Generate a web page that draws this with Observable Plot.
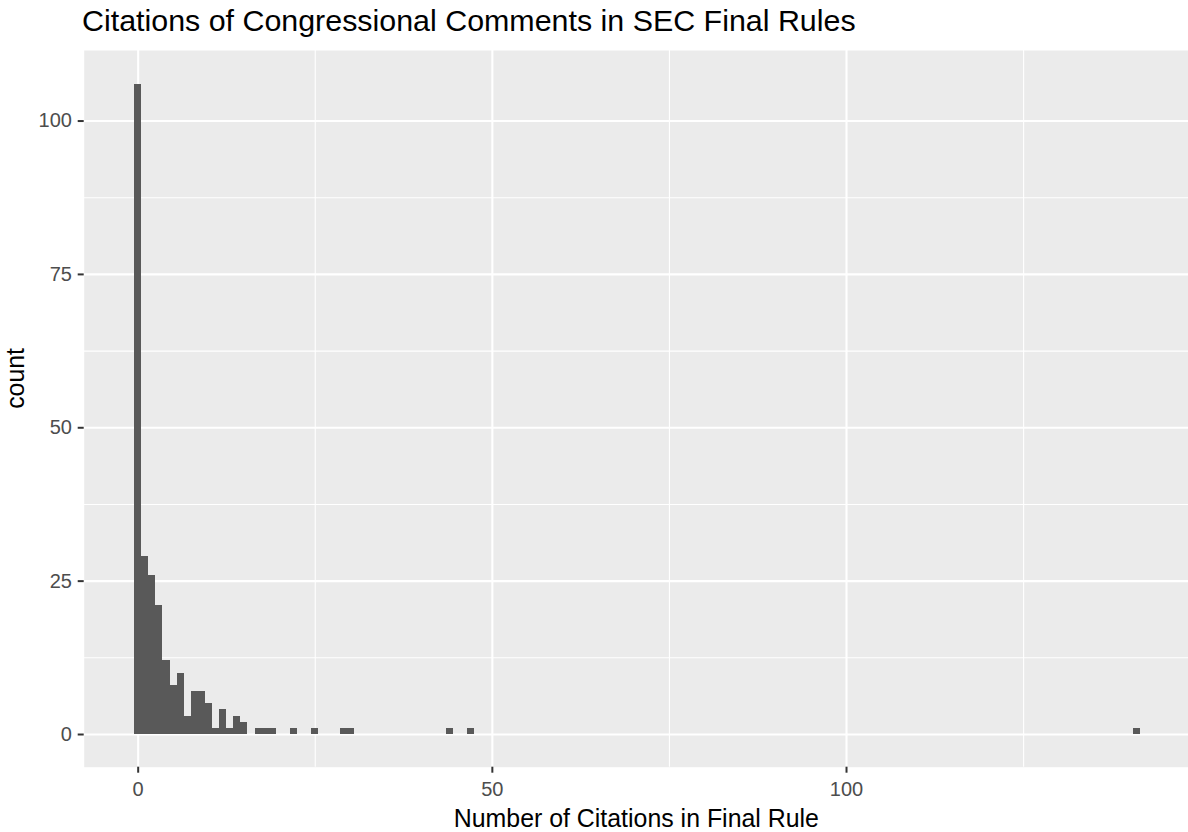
<!DOCTYPE html>
<html>
<head>
<meta charset="utf-8">
<script src="https://cdn.jsdelivr.net/npm/d3@7"></script>
<script src="https://cdn.jsdelivr.net/npm/@observablehq/plot@0.6"></script>
<style>
  html, body { margin: 0; padding: 0; background: #fff; }
  #title {
    font-family: "Liberation Sans", Arial, sans-serif;
    font-size: 30.4px; line-height: 41px; height: 42px;
    padding-left: 82px; color: #000; white-space: nowrap;
  }
  svg { display: block; }
</style>
</head>
<body>
<div id="title">Citations of Congressional Comments in SEC Final Rules</div>
<div id="chart"></div>
<script>
// Histogram (binwidth 1)
const citations = [0,1,2,3,4,5,6,7,8,9,10,11,12,13,14,15,17,18,19,22,25,29,30,44,47,141];
const counts    = [106,29,26,21,12,8,10,3,7,7,5,1,4,1,3,2,1,1,1,1,1,1,1,1,1,1];
const xTicks = [0, 50, 100];
const xMinor = [25, 75, 125];
const yTicks = [0, 25, 50, 75, 100];
const yMinor = [12.5, 37.5, 62.5, 87.5];
const xLabel = "Number of Citations in Final Rule";
const yLabel = "count";

const data = citations.map((c, i) => ({citations: c, count: counts[i]}));
const font = '"Liberation Sans", Arial, sans-serif';

const chart = Plot.plot({
  width: 1188,
  height: 790,
  marginLeft: 83.7,
  marginRight: 0,
  marginTop: 8,
  marginBottom: 65.3,
  style: {fontFamily: font, background: "#fff", overflow: "visible"},
  x: {domain: [-7.62, 148.28], axis: null},
  y: {domain: [-5.33, 111.5], axis: null},
  marks: [
    Plot.frame({fill: "#EBEBEB", stroke: null}),
    Plot.ruleX(xMinor, {stroke: "#fff", strokeWidth: 1.1}),
    Plot.ruleY(yMinor, {stroke: "#fff", strokeWidth: 1.1}),
    Plot.ruleX(xTicks, {stroke: "#fff", strokeWidth: 2.1}),
    Plot.ruleY(yTicks, {stroke: "#fff", strokeWidth: 2.1}),
    Plot.rectY(data, {x1: d => d.citations - 0.5, x2: d => d.citations + 0.5, y: "count", fill: "#595959", shapeRendering: "crispEdges"}),
    // ticks
    Plot.axisX(xTicks, {anchor: "bottom", tickSize: 6, tickFormat: () => "", color: "#333333", strokeWidth: 2, label: null}),
    Plot.axisY(yTicks, {anchor: "left", tickSize: 6, tickFormat: () => "", color: "#333333", strokeWidth: 2, label: null}),
    // tick labels
    Plot.axisX(xTicks, {anchor: "bottom", tickSize: 0, tickPadding: 15, fontSize: 20, color: "#4D4D4D", label: null}),
    Plot.axisY(yTicks, {anchor: "left", tickSize: 0, tickPadding: 12.3, fontSize: 20, color: "#4D4D4D", label: null}),
    // axis titles
    Plot.text([xLabel], {frameAnchor: "bottom", lineAnchor: "middle", dy: 51.4, fontSize: 24.9, fill: "#000"}),
    Plot.text([yLabel], {frameAnchor: "left", lineAnchor: "middle", rotate: -90, dx: -68, fontSize: 24.9, fill: "#000"})
  ]
});
document.getElementById("chart").appendChild(chart);
</script>
</body>
</html>
